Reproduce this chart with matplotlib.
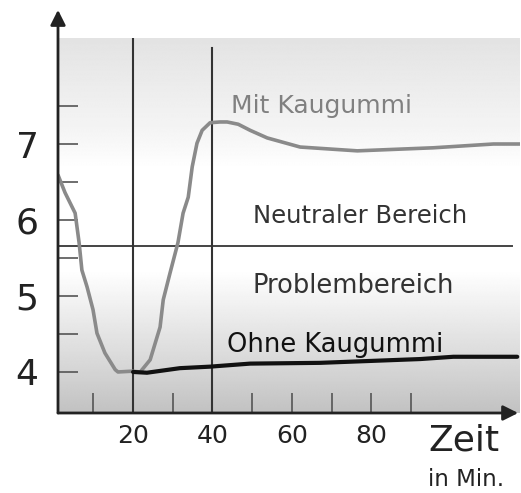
import numpy as np
import matplotlib
matplotlib.use("Agg")
import matplotlib.pyplot as plt

# ---- data ----
mit_x = [1.1, 2.85, 5.4, 6.4, 7.1, 8.4, 9.9, 10.9, 12.9, 15.5, 16.2, 19.7, 21.8,
         24.3, 26.8, 27.6, 29.3, 31.3, 32.6, 33.9, 34.9, 36.1, 37.4, 39.4, 41.9,
         43.7, 46.5, 49.5, 53.8, 62.1, 76.5, 95.6, 110.8, 117.5]
mit_y = [6.59, 6.36, 6.09, 5.70, 5.34, 5.12, 4.82, 4.51, 4.25, 4.03, 4.00, 4.01, 4.00,
         4.16, 4.59, 4.95, 5.30, 5.70, 6.09, 6.30, 6.70, 7.01, 7.18, 7.28, 7.29,
         7.29, 7.26, 7.18, 7.08, 6.96, 6.91, 6.95, 7.00, 7.00]
ohne_x = [20.0, 23.5, 31.8, 39.4, 49.5, 67.1, 92.4, 100.7, 116.8]
ohne_y = [4.00, 3.99, 4.05, 4.07, 4.11, 4.12, 4.17, 4.20, 4.20]
neutral_line = 5.66
marker_times = [20, 40]
ytick_pos = [4, 4.5, 5, 5.5, 6, 6.5, 7, 7.5]
ytick_labels = ["4", "", "5", "", "6", "", "7", ""]
xtick_pos = [10, 20, 30, 40, 50, 60, 70, 80, 90]
xtick_labels = ["", "20", "", "40", "", "60", "", "80", ""]

plt.rcParams['font.family'] = ['DejaVu Sans']

fig = plt.figure(figsize=(5.21, 4.93), dpi=100)
ax = fig.add_axes([58/521, 80/493, 462/521, 375/493])
x0, x1 = 1.08, 117.5
y0, y1 = 3.46, 8.395
ax.set_xlim(x0, x1)
ax.set_ylim(y0, y1)

# gradient background
stops_f = [0.0, 0.25, 0.35, 0.62, 0.78, 0.88, 1.0]
stops_v = [0.89, 0.96, 1.0, 1.0, 0.90, 0.84, 0.76]
f = np.linspace(0, 1, 400)
g = np.interp(f, stops_f, stops_v)[:, None]
ax.imshow(np.repeat(g, 2, axis=1), cmap='gray', vmin=0, vmax=1, aspect='auto',
          extent=[x0, x1, y0, y1], origin='upper', zorder=0, interpolation='bilinear')

for s in ax.spines.values():
    s.set_visible(False)

# reference lines
ax.plot([x0, 115.5], [neutral_line, neutral_line], color='#444444', lw=1.4, zorder=2)
ax.plot([marker_times[0], marker_times[0]], [y0, y1], color='#333333', lw=1.5, zorder=2)
ax.plot([marker_times[1], marker_times[1]], [y0, 4 + (372 - 48) / 76], color='#333333', lw=1.5, zorder=2)

# curves
ax.plot(mit_x, mit_y, color='#8a8a8a', lw=2.6, zorder=3,
        solid_capstyle='round', solid_joinstyle='round')
ax.plot(ohne_x, ohne_y, color='#111111', lw=3.0, zorder=4,
        solid_capstyle='round', solid_joinstyle='round')

# ticks
ax.set_yticks(ytick_pos)
ax.set_yticklabels(ytick_labels, fontsize=26, color='#222222')
ax.set_xticks(xtick_pos)
ax.set_xticklabels(xtick_labels, fontsize=18, color='#222222')
ax.tick_params(axis='y', direction='in', length=14.4, width=1.2, color='#555555', pad=14)
ax.tick_params(axis='x', direction='in', length=14.4, width=1.2, color='#555555', pad=8)

# axes with arrows
arrow_kw = dict(arrowstyle='-|>,head_length=0.9,head_width=0.45', lw=2.0,
                color='#222222', shrinkA=0, shrinkB=0)
ax.annotate('', xy=(0, 1.075), xytext=(0, 0), xycoords='axes fraction',
            textcoords='axes fraction', arrowprops=arrow_kw, annotation_clip=False)
ax.annotate('', xy=(0.996, 0), xytext=(0, 0), xycoords='axes fraction',
            textcoords='axes fraction', arrowprops=arrow_kw, annotation_clip=False)

# labels
ax.text(67.6, 7.41, "Mit Kaugummi", fontsize=18, color='#808080', ha='center', va='baseline', zorder=5)
ax.text(77.2, 5.96, "Neutraler Bereich", fontsize=17.5, color='#333333', ha='center', va='baseline', zorder=5)
ax.text(75.4, 5.04, "Problembereich", fontsize=18.5, color='#333333', ha='center', va='baseline', zorder=5)
ax.text(70.9, 4.26, "Ohne Kaugummi", fontsize=18.5, color='#111111', ha='center', va='baseline', zorder=5)
ax.text(94.4, 2.97, "Zeit", fontsize=26, color='#222222', ha='left', va='baseline', clip_on=False)
ax.text(94.4, 2.50, "in Min.", fontsize=16.5, color='#222222', ha='left', va='baseline', clip_on=False)

fig.savefig("out.png", dpi=100)
